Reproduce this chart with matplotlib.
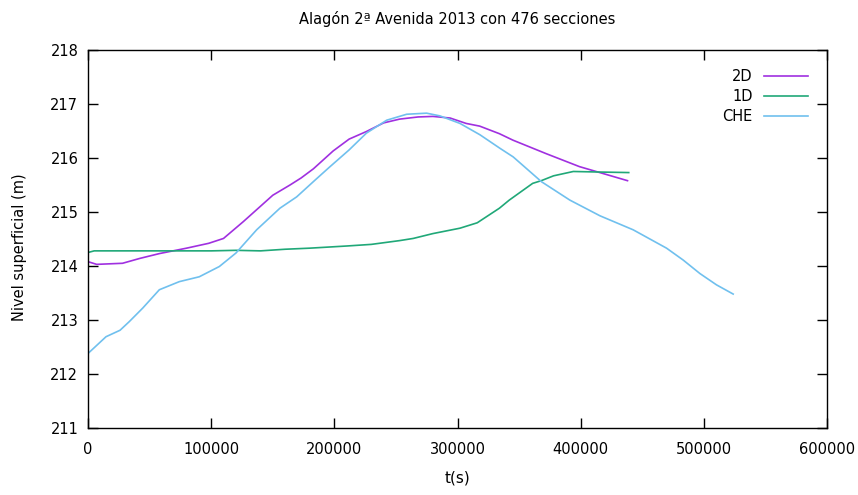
import matplotlib
matplotlib.use("Agg")
import matplotlib.pyplot as plt

# Water surface level over time for three models
t_2d = [0, 7000, 28000, 42000, 58000, 80000, 98000, 110000, 126000, 150000,
        164000, 173000, 183000, 199000, 212000, 226000, 240000, 253000, 268000,
        280000, 294000, 307000, 318000, 334000, 345000, 372000, 399000, 420000,
        438000]
h_2d = [214.08, 214.03, 214.05, 214.14, 214.23, 214.33, 214.42, 214.51, 214.82,
        215.31, 215.50, 215.63, 215.80, 216.13, 216.35, 216.49, 216.65, 216.72,
        216.76, 216.77, 216.74, 216.64, 216.59, 216.45, 216.33, 216.08, 215.84,
        215.70, 215.58]

t_1d = [0, 5000, 50000, 100000, 120000, 140000, 160000, 180000, 210000, 230000,
        253000, 264000, 280000, 302000, 316000, 334000, 342000, 361000, 368000,
        378000, 394000, 415000, 439000]
h_1d = [214.25, 214.28, 214.28, 214.28, 214.29, 214.28, 214.31, 214.33, 214.37,
        214.40, 214.47, 214.51, 214.60, 214.70, 214.80, 215.07, 215.22, 215.53,
        215.58, 215.67, 215.75, 215.74, 215.73]

t_che = [0, 14600, 26000, 33500, 44400, 57900, 74100, 90300, 106600, 120100,
         136900, 155800, 169400, 184300, 196000, 212000, 226000, 242500, 258700,
         274900, 285700, 302000, 318200, 334400, 345200, 368200, 391200, 415600,
         442600, 469700, 483200, 496800, 510300, 523800]
h_che = [212.38, 212.69, 212.81, 212.97, 213.22, 213.56, 213.71, 213.80, 213.99,
         214.24, 214.67, 215.07, 215.28, 215.59, 215.83, 216.15, 216.46, 216.70,
         216.81, 216.83, 216.78, 216.64, 216.43, 216.18, 216.02, 215.56, 215.22,
         214.93, 214.67, 214.33, 214.11, 213.86, 213.65, 213.48]

x_ticks = [0, 100000, 200000, 300000, 400000, 500000, 600000]
y_ticks = [211, 212, 213, 214, 215, 216, 217, 218]

plt.rcParams['font.family'] = ['DejaVu Sans']

fig = plt.figure(figsize=(8.58, 4.95), dpi=100)
ax = fig.add_axes([0.1026, 0.1354, 0.8613, 0.7636])

ax.plot(t_2d, h_2d, color='#a030e0', lw=1.2, label='2D')
ax.plot(t_1d, h_1d, color='#20a878', lw=1.2, label='1D')
ax.plot(t_che, h_che, color='#70c0ee', lw=1.2, label='CHE')

ax.set_xlim(0, 600000)
ax.set_ylim(211, 218)
ax.set_xticks(x_ticks)
ax.set_xticklabels([str(v) for v in x_ticks])
ax.set_yticks(y_ticks)
ax.tick_params(direction='in', length=7, width=1, top=True, right=True,
               labelsize=10.5)
ax.tick_params(axis='x', pad=10)
ax.tick_params(axis='y', pad=7)
for s in ax.spines.values():
    s.set_linewidth(1)
    s.set_color('black')

ax.set_title('Alagón 2ª Avenida 2013 con 476 secciones', fontsize=10.5, pad=19)
ax.set_xlabel('t(s)', fontsize=11, labelpad=10)
ax.set_ylabel('Nivel superficial (m)', fontsize=10.5)
ax.yaxis.set_label_coords(-0.082, 0.479)

ax.legend(loc='upper right', frameon=False, markerfirst=False, fontsize=10.5,
          handlelength=3.0, handletextpad=0.8, labelspacing=0.35,
          borderaxespad=0.9)

fig.savefig('out.png', dpi=100)
